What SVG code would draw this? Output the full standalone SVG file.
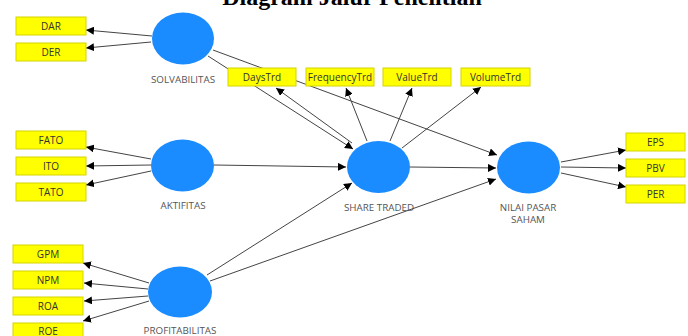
<svg xmlns="http://www.w3.org/2000/svg" width="688" height="336" viewBox="0 0 688 336">
<style>
.bx{fill:#ffff00;stroke:#d4d400;stroke-width:1}
.bt{font-family:"Open Sans","Noto Sans",sans-serif;font-size:10px;fill:#333;text-anchor:middle}
.lv{fill:#1a8cff}
.lt{font-family:"Open Sans","Noto Sans",sans-serif;font-size:9.8px;fill:#555;text-anchor:middle}
.c line{stroke:#444;stroke-width:1;marker-end:url(#ah)}
.title{font-family:"Liberation Serif",serif;font-weight:bold;font-size:24px;fill:#000;text-anchor:middle}
</style>
<defs>
<marker id="ah" markerUnits="userSpaceOnUse" markerWidth="10" markerHeight="8" refX="8" refY="4" orient="auto">
<path d="M0,0 L8,4 L0,8 Z" fill="#000"/>
</marker>
</defs>
<rect width="688" height="336" fill="#fff"/>
<text class="title" x="352" y="5">Diagram Jalur Penelitian</text>
<g id="connectors" class="c">
<line x1="152" y1="36" x2="86" y2="30"/>
<line x1="151" y1="42" x2="86" y2="48"/>
<line x1="151" y1="159" x2="86" y2="147"/>
<line x1="151" y1="165" x2="86" y2="166"/>
<line x1="151" y1="171" x2="86" y2="185"/>
<line x1="149" y1="283" x2="83" y2="263"/>
<line x1="148" y1="289" x2="84" y2="283"/>
<line x1="148" y1="296" x2="84" y2="301"/>
<line x1="149" y1="301" x2="83" y2="321"/>
<line x1="208" y1="56" x2="353" y2="149"/>
<line x1="213" y1="50" x2="497" y2="155"/>
<line x1="214" y1="165" x2="346" y2="167"/>
<line x1="207" y1="275" x2="352" y2="183"/>
<line x1="210" y1="281" x2="496" y2="179"/>
<line x1="410" y1="167" x2="496" y2="168"/>
<line x1="352" y1="143" x2="276" y2="88"/>
<line x1="367" y1="141" x2="346" y2="88"/>
<line x1="390" y1="141" x2="412" y2="88"/>
<line x1="402" y1="148" x2="481" y2="87"/>
<line x1="561" y1="162" x2="626" y2="150"/>
<line x1="561" y1="167" x2="626" y2="168"/>
<line x1="561" y1="173" x2="626" y2="187"/>
</g>
<g id="SOLVABILITAS"><ellipse class="lv" cx="183" cy="38.5" rx="31" ry="26"/><text class="lt" x="183" y="83">SOLVABILITAS</text></g>
<g id="AKTIFITAS"><ellipse class="lv" cx="182.5" cy="165.5" rx="31.5" ry="26"/><text class="lt" x="183" y="209">AKTIFITAS</text></g>
<g id="PROFITABILITAS"><ellipse class="lv" cx="180" cy="292" rx="32" ry="25.5"/><text class="lt" x="180" y="334">PROFITABILITAS</text></g>
<g id="SHARE_TRADED"><ellipse class="lv" cx="378.5" cy="167" rx="31.5" ry="26"/><text class="lt" x="379" y="211">SHARE TRADED</text></g>
<g id="NILAI_PASAR_SAHAM"><ellipse class="lv" cx="528.5" cy="167.5" rx="31.5" ry="26"/><text class="lt" x="528" y="211">NILAI PASAR</text><text class="lt" x="528" y="223">SAHAM</text></g>
<g id="DAR"><rect class="bx" x="16" y="17" width="70" height="18"/><text class="bt" x="51" y="30">DAR</text></g>
<g id="DER"><rect class="bx" x="16" y="43" width="70" height="18"/><text class="bt" x="51" y="56">DER</text></g>
<g id="FATO"><rect class="bx" x="16" y="131" width="70" height="18"/><text class="bt" x="51" y="144">FATO</text></g>
<g id="ITO"><rect class="bx" x="16" y="157" width="70" height="18"/><text class="bt" x="51" y="170">ITO</text></g>
<g id="TATO"><rect class="bx" x="16" y="183" width="70" height="18"/><text class="bt" x="51" y="196">TATO</text></g>
<g id="GPM"><rect class="bx" x="13" y="245" width="70" height="18"/><text class="bt" x="48" y="258">GPM</text></g>
<g id="NPM"><rect class="bx" x="13" y="271" width="70" height="18"/><text class="bt" x="48" y="284">NPM</text></g>
<g id="ROA"><rect class="bx" x="13" y="297" width="70" height="18"/><text class="bt" x="48" y="310">ROA</text></g>
<g id="ROE"><rect class="bx" x="13" y="323" width="70" height="18"/><text class="bt" x="48" y="335">ROE</text></g>
<g id="DaysTrd"><rect class="bx" x="228" y="68" width="68" height="18"/><text class="bt" x="262" y="81">DaysTrd</text></g>
<g id="FrequencyTrd"><rect class="bx" x="306" y="68" width="68" height="18"/><text class="bt" x="340" y="81">FrequencyTrd</text></g>
<g id="ValueTrd"><rect class="bx" x="383" y="68" width="68" height="18"/><text class="bt" x="417" y="81">ValueTrd</text></g>
<g id="VolumeTrd"><rect class="bx" x="461" y="68" width="69" height="18"/><text class="bt" x="495.5" y="81">VolumeTrd</text></g>
<g id="EPS"><rect class="bx" x="626" y="133" width="59" height="18"/><text class="bt" x="655.5" y="146">EPS</text></g>
<g id="PBV"><rect class="bx" x="626" y="159" width="59" height="18"/><text class="bt" x="655.5" y="172">PBV</text></g>
<g id="PER"><rect class="bx" x="626" y="185" width="59" height="18"/><text class="bt" x="655.5" y="198">PER</text></g>
</svg>
